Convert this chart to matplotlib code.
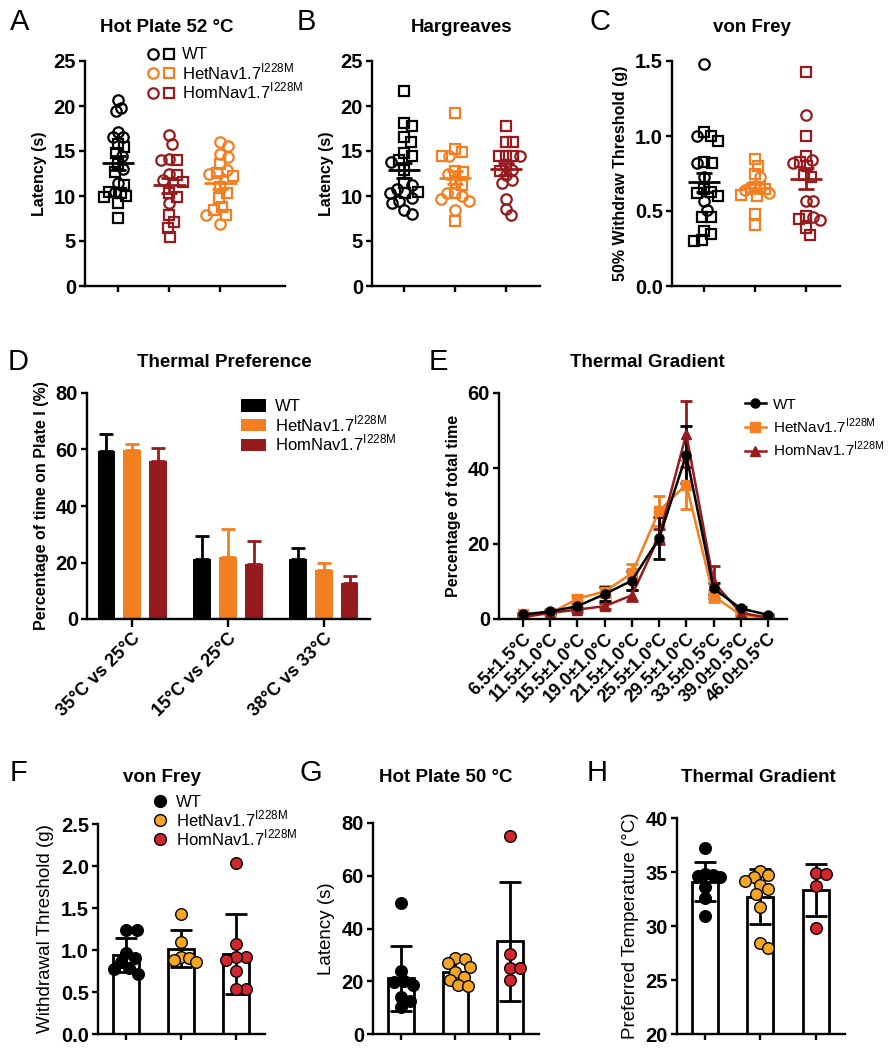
import numpy as np
import matplotlib
matplotlib.use('Agg')
import matplotlib.pyplot as plt
from matplotlib.lines import Line2D
from matplotlib.legend_handler import HandlerTuple

plt.rcParams['font.family'] = ['Liberation Sans', 'DejaVu Sans']
plt.rcParams['mathtext.fontset'] = 'custom'
plt.rcParams['mathtext.rm'] = 'Liberation Sans'

BLACK = '#000000'
ORANGE = '#F47F20'
DARKRED = '#961B1E'
YELLOW = '#F5A623'
RED = '#D1262C'

labels = ['WT', 'HetNav1.7$^{\\mathregular{I228M}}$', 'HomNav1.7$^{\\mathregular{I228M}}$']

# A: Hot plate 52 C (axis order WT, Hom, Het) - circles / squares
a_wt_circ = [20.7, 19.8, 19.4, 17.1, 16.6, 16.6, 14.5, 13.0, 11.4, 10.5]
a_wt_sq = [15.8, 15.5, 14.8, 13.6, 12.7, 11.2, 10.4, 10.3, 10.0, 9.9, 9.2, 7.6]
a_hom_circ = [16.8, 15.8, 14.1, 14.0, 12.4, 11.8, 9.2]
a_hom_sq = [14.0, 12.3, 11.6, 10.3, 9.9, 7.9, 7.1, 6.5, 5.5]
a_het_circ = [16.0, 15.6, 14.7, 14.3, 12.9, 12.4, 7.9, 6.9]
a_het_sq = [13.6, 12.6, 12.2, 11.0, 10.3, 9.8, 8.8, 8.4, 7.9]

# B: Hargreaves
b_wt_circ = [13.8, 11.2, 10.8, 10.3, 9.8, 9.5, 9.2, 8.4, 8.0]
b_wt_sq = [21.7, 18.1, 17.8, 16.6, 16.0, 14.8, 14.5, 14.0, 12.9, 11.4, 10.5, 10.3]
b_het_circ = [14.5, 12.4, 11.5, 10.3, 10.0, 9.7, 9.5, 8.5]
b_het_sq = [19.2, 15.2, 14.9, 14.5, 12.8, 12.7, 11.2, 10.3, 7.2]
b_hom_circ = [14.4, 12.9, 12.3, 11.8, 11.5, 9.7, 8.6, 7.9]
b_hom_sq = [17.8, 16.0, 16.0, 14.5, 14.4, 14.4, 13.4, 12.8]

# C: von Frey
c_wt_circ = [1.48, 1.0, 0.82, 0.73, 0.57, 0.51]
c_wt_sq = [1.03, 1.0, 0.97, 0.83, 0.82, 0.65, 0.63, 0.62, 0.60, 0.46, 0.46, 0.37, 0.35, 0.31, 0.30]
c_het_circ = [0.73, 0.66, 0.64, 0.62]
c_het_sq = [0.85, 0.80, 0.75, 0.66, 0.66, 0.65, 0.61, 0.60, 0.48, 0.41]
c_hom_circ = [1.14, 0.84, 0.82, 0.57, 0.57, 0.46, 0.44]
c_hom_sq = [1.43, 1.0, 0.87, 0.83, 0.80, 0.74, 0.73, 0.47, 0.45, 0.39, 0.34]

# D: Thermal preference
d_cats = ['35°C vs 25°C', '15°C vs 25°C', '38°C vs 33°C']
d_wt = [59.5, 21.3, 21.3]
d_wt_err = [5.9, 8.0, 3.8]
d_het = [59.8, 21.8, 17.3]
d_het_err = [2.1, 10.0, 2.7]
d_hom = [56.1, 19.5, 12.8]
d_hom_err = [4.4, 8.0, 2.5]

# E: Thermal gradient
e_cats = ['6.5±1.5°C', '11.5±1.0°C', '15.5±1.0°C', '19.0±1.0°C', '21.5±1.0°C',
          '25.5±1.0°C', '29.5±1.0°C', '33.5±0.5°C', '39.0±0.5°C', '46.0±0.5°C']
e_wt = [1.2, 2.0, 3.4, 6.6, 10.2, 21.4, 43.6, 8.1, 2.8, 1.1]
e_wt_err = [0.5, 0.4, 0.8, 1.8, 2.5, 5.6, 7.6, 1.5, 0.5, 0.3]
e_het = [1.2, 1.5, 5.4, 7.3, 12.1, 28.7, 35.7, 6.1, 1.1, 0.3]
e_het_err = [0.4, 0.4, 1.0, 1.4, 2.5, 4.0, 6.5, 1.5, 0.5, 0.2]
e_hom = [0.5, 1.6, 2.5, 3.4, 6.3, 21.8, 49.1, 9.8, 1.6, 0.4]
e_hom_err = [0.3, 0.3, 0.6, 0.8, 1.5, 2.0, 8.8, 4.2, 0.5, 0.2]

# F: von Frey (individual animals)
f_wt = [1.24, 1.24, 0.97, 0.91, 0.86, 0.78, 0.77, 0.72]
f_het = [1.43, 1.09, 0.92, 0.90, 0.88, 0.86]
f_hom = [2.03, 1.07, 0.92, 0.92, 0.88, 0.75, 0.535, 0.535]

# G: Hot plate 50 C
g_wt = [49.5, 24.0, 20.2, 19.8, 18.6, 14.2, 12.6, 10.2]
g_het = [29.0, 28.6, 26.8, 25.5, 23.6, 21.7, 20.4, 18.5, 18.2]
g_hom = [75.0, 30.5, 24.9, 24.9, 20.4]

# H: Thermal gradient preferred temperature
h_wt = [37.2, 34.8, 34.7, 34.6, 34.5, 33.6, 32.6, 30.9]
h_het = [35.1, 34.7, 34.5, 34.2, 33.8, 33.4, 33.0, 31.8, 28.4, 28.0]
h_hom = [34.9, 34.8, 33.7, 29.8]

W, H = 888, 1050
fig = plt.figure(figsize=(W / 100, H / 100), dpi=100)

TICK_FS = 14.5


def add_ax(x0, x1, ytop, ybot):
    ax = fig.add_axes([x0 / W, 1 - ybot / H, (x1 - x0) / W, (ybot - ytop) / H])
    for s in ['top', 'right']:
        ax.spines[s].set_visible(False)
    for s in ['left', 'bottom']:
        ax.spines[s].set_linewidth(1.7)
    ax.tick_params(direction='out', length=4.5, width=1.7, labelsize=TICK_FS, pad=2)
    return ax


def bold_ticks(ax):
    for t in ax.get_yticklabels() + ax.get_xticklabels():
        t.set_fontweight('bold')


def swarm(vals, ypx, xpx, d, maxw):
    # simple beeswarm: push points sideways until they don't overlap,
    # then squeeze the cloud so it stays within maxw pixels of the centre
    vals = np.asarray(vals, float)
    placed = []
    offs = np.zeros(len(vals))
    for i in np.argsort(vals)[::-1]:
        y = vals[i] * ypx
        cands = [0.0]
        for p, py in placed:
            dy = y - py
            if abs(dy) < d:
                dx = np.sqrt(d * d - dy * dy)
                cands += [p + dx, p - dx]
        cands.sort(key=abs)
        for c in cands:
            if all((c - p) ** 2 + (y - py) ** 2 >= d * d - 1e-6 for p, py in placed):
                break
        placed.append((c, y))
        offs[i] = c
    big = np.abs(offs).max()
    if big > maxw:
        offs = offs * maxw / big
    return offs / xpx


def title(x, y, s):
    fig.text(x / W, 1 - y / H, s, ha='center', va='center', fontsize=13.5, fontweight='bold')


def letter(x, y, s):
    fig.text(x / W, 1 - y / H, s, ha='left', va='top', fontsize=21)


def scatter_panel(ax, data, colors, ypx, xpx):
    for i, ((circ, sq), c) in enumerate(zip(data, colors)):
        vals = np.array(circ + sq)
        offs = swarm(vals, ypx, xpx, 9.5, 14)
        n = len(circ)
        ax.plot(i + offs[:n], circ, 'o', ms=7.5, mfc='none', mec=c, mew=1.6, ls='none', clip_on=False)
        ax.plot(i + offs[n:], sq, 's', ms=7, mfc='none', mec=c, mew=1.6, ls='none', clip_on=False)
        m = vals.mean()
        sem = vals.std(ddof=1) / np.sqrt(len(vals))
        ax.hlines(m, i - 0.32, i + 0.32, color=c, lw=2)
        ax.errorbar(i, m, yerr=sem, color=c, capsize=6, elinewidth=2, capthick=2)
    ax.set_xticks([0, 1, 2])
    ax.set_xticklabels([])


def bar_panel(ax, data, colors, ypx, xpx):
    for i, (vals, c) in enumerate(zip(data, colors)):
        vals = np.array(vals)
        m = vals.mean()
        sd = vals.std(ddof=1)
        ax.bar(i, m, 0.47, color='white', edgecolor='black', lw=2, zorder=1)
        ax.errorbar(i, m, yerr=sd, color='black', capsize=8, elinewidth=2, capthick=2, zorder=2)
        offs = swarm(vals, ypx, xpx, 10.5, 15)
        ax.scatter(i + offs, vals, s=70, c=c, edgecolors='black', linewidths=1, zorder=3, clip_on=False)
    ax.set_xticks([0, 1, 2])
    ax.set_xticklabels([])


# ---- A ----
ax = add_ax(85, 285, 61, 286)
scatter_panel(ax, [(a_wt_circ, a_wt_sq), (a_hom_circ, a_hom_sq), (a_het_circ, a_het_sq)],
              [BLACK, DARKRED, ORANGE], 9.0, 51)
ax.set_ylim(0, 25)
ax.set_yticks([0, 5, 10, 15, 20, 25])
ax.set_xlim(-0.65, 3.27)
ax.set_ylabel('Latency (s)', fontsize=11.5, fontweight='bold', labelpad=5)
bold_ticks(ax)
hands = []
for c in [BLACK, ORANGE, DARKRED]:
    hands.append((Line2D([], [], marker='o', ms=7.5, mfc='none', mec=c, mew=1.6, ls='none'),
                  Line2D([], [], marker='s', ms=7, mfc='none', mec=c, mew=1.6, ls='none')))
fig.legend(hands, labels, handler_map={tuple: HandlerTuple(ndivide=None, pad=0.25)},
           loc='upper left', bbox_to_anchor=(138 / W, 1 - 39 / H), frameon=False,
           fontsize=12, handlelength=1.75, handletextpad=0.4, labelspacing=-0.05, borderpad=0)
title(167, 27, 'Hot Plate 52 °C')
letter(10, 8, 'A')

# ---- B ----
ax = add_ax(372, 540, 61, 286)
scatter_panel(ax, [(b_wt_circ, b_wt_sq), (b_het_circ, b_het_sq), (b_hom_circ, b_hom_sq)],
              [BLACK, ORANGE, DARKRED], 9.0, 51)
ax.set_ylim(0, 25)
ax.set_yticks([0, 5, 10, 15, 20, 25])
ax.set_xlim(-0.63, 2.67)
ax.set_ylabel('Latency (s)', fontsize=11.5, fontweight='bold', labelpad=5)
bold_ticks(ax)
title(462, 27, 'Hargreaves')
letter(297, 8, 'B')

# ---- C ----
ax = add_ax(672, 840, 61, 286)
scatter_panel(ax, [(c_wt_circ, c_wt_sq), (c_het_circ, c_het_sq), (c_hom_circ, c_hom_sq)],
              [BLACK, ORANGE, DARKRED], 150.0, 51)
ax.set_ylim(0, 1.5)
ax.set_yticks([0, 0.5, 1.0, 1.5])
ax.set_yticklabels(['0.0', '0.5', '1.0', '1.5'])
ax.set_xlim(-0.63, 2.67)
ax.set_ylabel('50% Withdraw Threshold (g)', fontsize=11.5, fontweight='bold', labelpad=5)
bold_ticks(ax)
title(752, 27, 'von Frey')
letter(589, 8, 'C')

# ---- D ----
ax = add_ax(87, 370, 393, 619)
x = np.arange(3)
for off, vals, errs, c, lab in [(-0.27, d_wt, d_wt_err, BLACK, labels[0]),
                                (0.0, d_het, d_het_err, ORANGE, labels[1]),
                                (0.27, d_hom, d_hom_err, DARKRED, labels[2])]:
    ax.bar(x + off, vals, 0.18, color=c, label=lab, zorder=2)
    ax.errorbar(x + off, vals, yerr=[np.zeros(3), errs], fmt='none', ecolor=c,
                capsize=5, elinewidth=2, capthick=2, zorder=1)
ax.set_ylim(0, 80)
ax.set_yticks([0, 20, 40, 60, 80])
ax.set_xlim(-0.47, 2.48)
ax.set_xticks(x)
ax.set_xticklabels(d_cats, rotation=45, ha='right', rotation_mode='anchor', fontsize=13)
ax.tick_params(axis='x', length=6)
ax.set_ylabel('Percentage of time on Plate I (%)', fontsize=11.5, fontweight='bold', labelpad=5)
bold_ticks(ax)
ax.legend(loc='upper left', bbox_to_anchor=(233 / W, 1 - 391 / H), bbox_transform=fig.transFigure,
          frameon=False, fontsize=12, handlelength=1.45, handleheight=0.75, handletextpad=0.55,
          labelspacing=-0.05, borderpad=0)
title(224, 362, 'Thermal Preference')
letter(8, 348, 'D')

# ---- E ----
ax = add_ax(499, 787, 393, 619)
xe = np.arange(len(e_cats))
for vals, errs, c, mk, lab in [(e_het, e_het_err, ORANGE, 's', labels[1]),
                               (e_hom, e_hom_err, DARKRED, '^', labels[2]),
                               (e_wt, e_wt_err, BLACK, 'o', labels[0])]:
    ax.errorbar(xe, vals, yerr=errs, color=c, marker=mk, ms=6.5, lw=1.8,
                capsize=4, elinewidth=2, capthick=2, label=lab)
ax.set_ylim(0, 60)
ax.set_yticks([0, 20, 40, 60])
ax.set_xlim(-0.88, 9.7)
ax.set_xticks(xe)
ax.set_xticklabels(e_cats, rotation=45, ha='right', rotation_mode='anchor', fontsize=13)
ax.tick_params(axis='x', length=6)
ax.set_ylabel('Percentage of total time', fontsize=11.5, fontweight='bold', labelpad=5)
bold_ticks(ax)
leg_h = [Line2D([], [], color=c, marker=m, ms=6.5, lw=1.8) for c, m in
         [(BLACK, 'o'), (ORANGE, 's'), (DARKRED, '^')]]
ax.legend(leg_h, labels, loc='upper left', bbox_to_anchor=(737 / W, 1 - 390 / H),
          bbox_transform=fig.transFigure, frameon=False, fontsize=11, handlelength=1.4,
          handletextpad=0.45, labelspacing=0.3, borderpad=0)
title(647, 362, 'Thermal Gradient')
letter(429, 348, 'E')

# ---- F ----
ax = add_ax(98, 265, 824, 1034)
bar_panel(ax, [f_wt, f_het, f_hom], [BLACK, YELLOW, RED], 84.0, 55)
ax.set_ylim(0, 2.5)
ax.set_yticks([0, 0.5, 1.0, 1.5, 2.0, 2.5])
ax.set_yticklabels(['0.0', '0.5', '1.0', '1.5', '2.0', '2.5'])
ax.set_xlim(-0.51, 2.53)
ax.set_ylabel('Withdrawal Threshold (g)', fontsize=13.5, labelpad=5)
bold_ticks(ax)
fh = [Line2D([], [], marker='o', ms=8.5, mfc=c, mec='black', mew=1, ls='none')
      for c in [BLACK, YELLOW, RED]]
fig.legend(fh, labels, loc='upper left', bbox_to_anchor=(142 / W, 1 - 787 / H), frameon=False,
           fontsize=12, handlelength=1.1, handletextpad=0.45, labelspacing=-0.1, borderpad=0)
title(162, 778, 'von Frey')
letter(10, 759, 'F')

# ---- G ----
ax = add_ax(373, 539, 823, 1034)
bar_panel(ax, [g_wt, g_het, g_hom], [BLACK, YELLOW, RED], 2.64, 55)
ax.set_ylim(0, 80)
ax.set_yticks([0, 20, 40, 60, 80])
ax.set_xlim(-0.51, 2.53)
ax.set_ylabel('Latency (s)', fontsize=13.5, labelpad=5)
bold_ticks(ax)
title(446, 777, 'Hot Plate 50 °C')
letter(299, 759, 'G')

# ---- H ----
ax = add_ax(677, 845, 818, 1034)
bar_panel(ax, [h_wt, h_het, h_hom], [BLACK, YELLOW, RED], 10.8, 55)
ax.set_ylim(20, 40)
ax.set_yticks([20, 25, 30, 35, 40])
ax.set_xlim(-0.51, 2.53)
ax.set_ylabel('Preferred Temperature (°C)', fontsize=13.5, labelpad=5)
bold_ticks(ax)
title(758, 777, 'Thermal Gradient')
letter(587, 759, 'H')

fig.savefig('out.png', dpi=100)
